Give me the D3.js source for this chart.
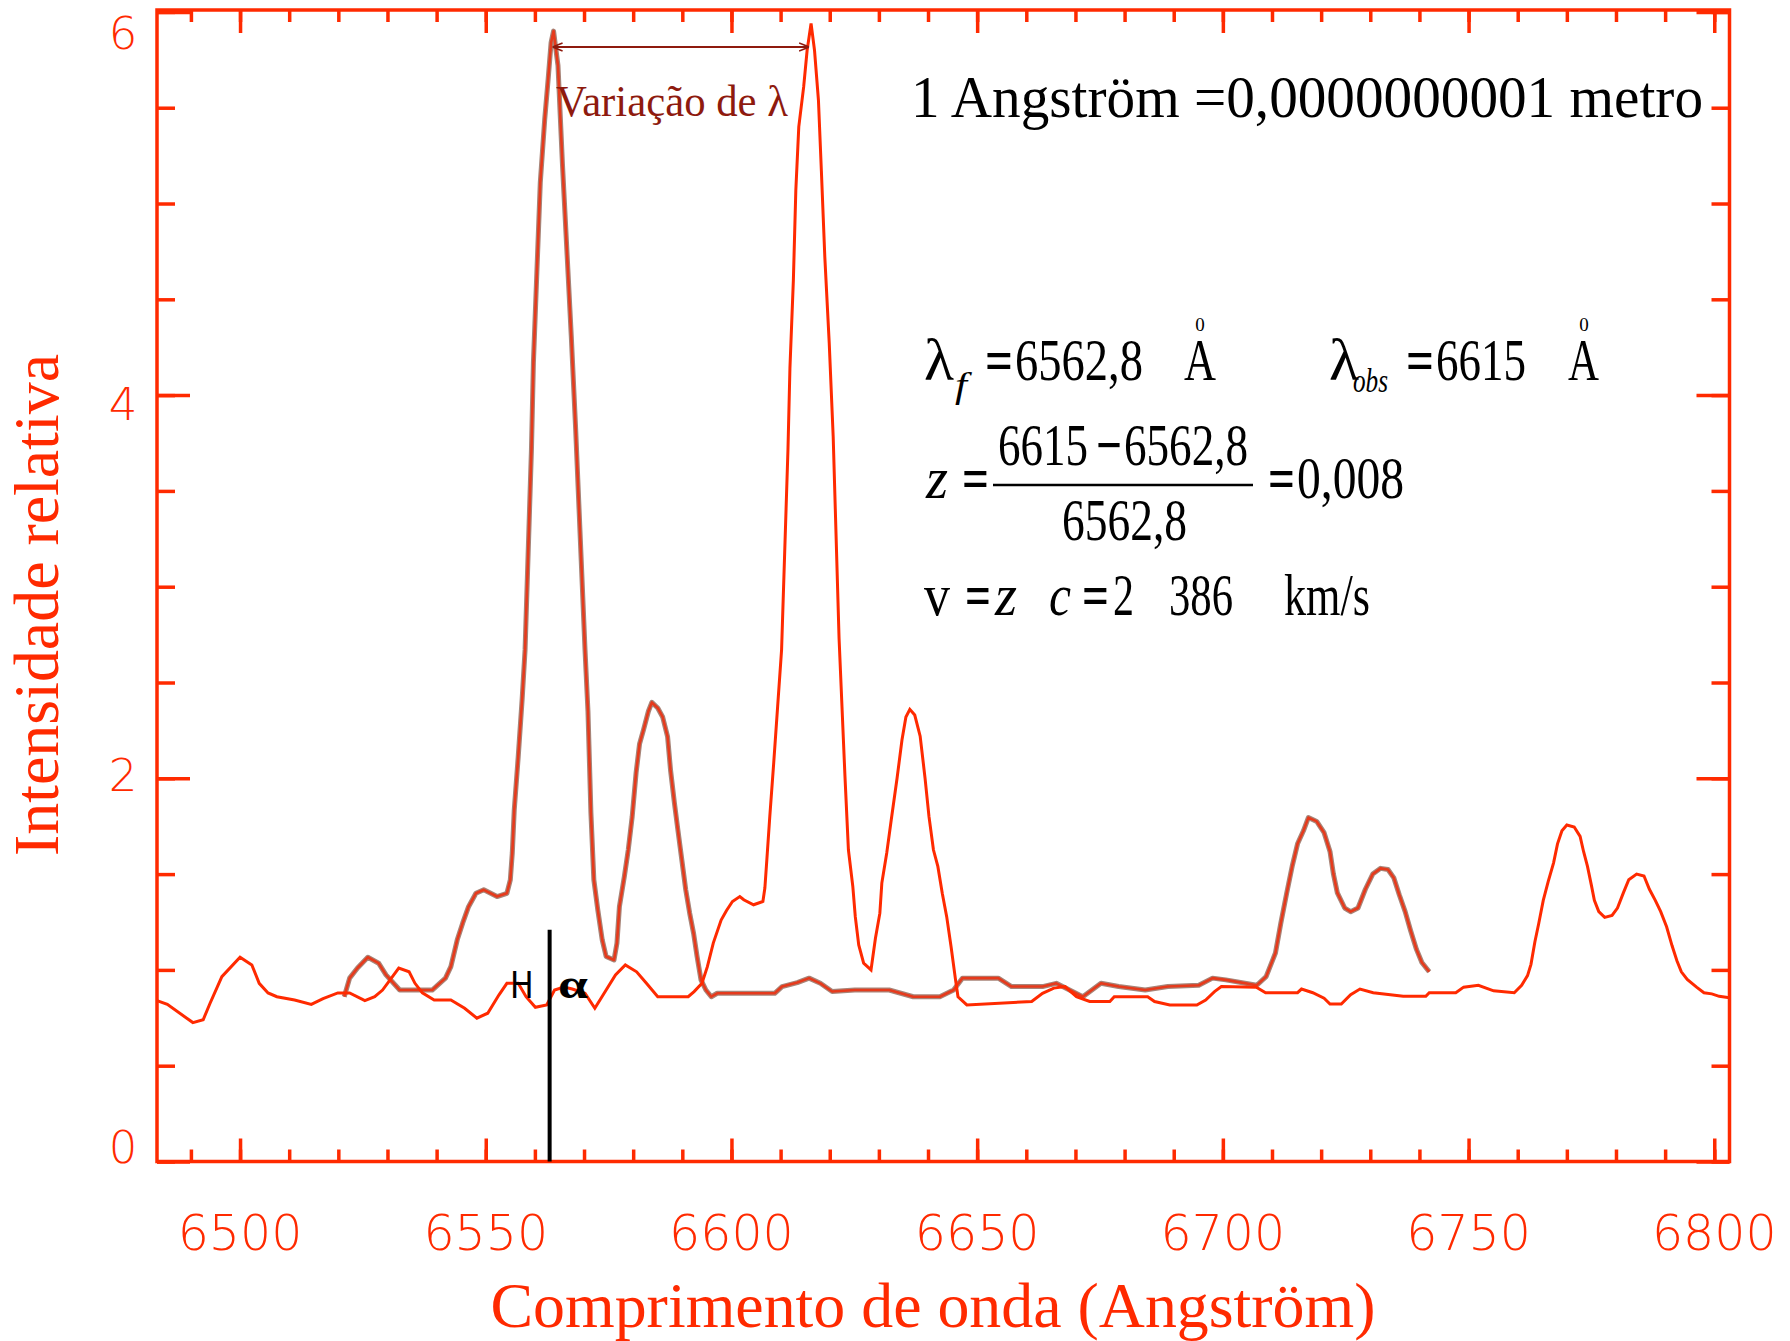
<!DOCTYPE html>
<html><head><meta charset="utf-8">
<script src="https://cdn.jsdelivr.net/npm/d3@7"></script>
<style>body{margin:0;background:#fff}svg{display:block}</style>
</head><body>
<svg id="c" width="1790" height="1341"></svg>
<script>
// ---------- DATA ----------
// Observed (redshifted) spectrum
const waveA = [6483.1,6485.2,6490.4,6492.5,6493.9,6496.3,6500.0,6502.4,6503.9,6505.7,
6507.5,6511.1,6514.5,6516.9,6519.9,6522.3,6525.4,6527.4,6529.0,6532.3,
6534.4,6535.6,6537.1,6539.5,6542.9,6545.7,6548.2,6550.4,6552.7,6554.3,
6556.6,6558.2,6560.1,6562.4,6564.0,6565.9,6567.6,6570.2,6572.2,6574.5,
6576.4,6578.4,6580.7,6582.7,6585.0,6591.2,6592.4,6594.0,6595.1,6596.3,
6597.9,6599.0,6600.2,6601.7,6602.5,6604.5,6606.4,6606.8,6607.2,6607.8,
6608.6,6609.4,6610.2,6611.5,6611.9,6612.6,6613.1,6613.7,6614.7,6615.4,
6616.2,6616.9,6617.7,6618.3,6619.0,6619.9,6620.7,6621.9,6623.1,6623.8,
6624.7,6625.2,6625.9,6626.9,6628.4,6629.3,6630.2,6630.6,6631.6,6632.5,
6633.7,6634.7,6635.5,6636.3,6637.3,6638.4,6639.4,6640.2,6641.1,6642.0,
6642.9,6643.8,6644.7,6645.6,6646.1,6647.9,6661.1,6663.3,6665.6,6667.9,
6670.2,6672.9,6677.0,6677.9,6684.7,6686.1,6689.2,6694.7,6696.5,6698.3,
6699.7,6706.8,6708.7,6715.2,6716.0,6718.3,6720.6,6721.8,6724.1,6726.0,
6727.9,6730.6,6736.7,6741.3,6742.0,6747.4,6749.0,6752.0,6755.1,6759.3,
6760.8,6762.0,6762.7,6763.5,6764.3,6765.2,6766.2,6767.3,6768.1,6769.0,
6770.0,6771.5,6772.7,6773.4,6774.2,6775.0,6775.6,6776.5,6777.7,6779.2,
6780.3,6781.5,6782.6,6784.2,6785.7,6786.8,6788.0,6789.1,6790.3,6791.4,
6792.4,6793.3,6794.5,6796.4,6797.9,6799.5,6801.0,6803.1];
const intA = [0.84,0.82,0.725,0.74,0.826,0.965,1.066,1.026,0.93,0.88,
0.86,0.843,0.82,0.85,0.88,0.88,0.84,0.86,0.895,1.01,
0.99,0.93,0.88,0.843,0.843,0.80,0.748,0.774,0.87,0.93,
0.93,0.86,0.805,0.817,0.895,0.91,0.90,0.878,0.80,0.895,
0.974,1.026,0.99,0.93,0.86,0.86,0.887,0.93,1.017,1.14,
1.26,1.31,1.357,1.383,1.366,1.34,1.357,1.427,1.574,1.80,
2.08,2.375,2.67,3.716,4.14,4.60,5.07,5.40,5.61,5.80,
5.94,5.80,5.54,5.17,4.72,4.27,3.785,2.73,2.01,1.627,
1.435,1.278,1.13,1.035,1.0,1.165,1.296,1.453,1.61,1.78,
2.0,2.2,2.32,2.36,2.33,2.22,2.0,1.80,1.627,1.54,
1.40,1.278,1.12,0.948,0.86,0.817,0.835,0.878,0.905,0.913,
0.86,0.835,0.835,0.86,0.86,0.835,0.817,0.817,0.843,0.887,
0.913,0.91,0.881,0.881,0.90,0.881,0.852,0.822,0.822,0.871,
0.90,0.881,0.862,0.862,0.881,0.881,0.91,0.92,0.891,0.881,
0.92,0.97,1.029,1.147,1.245,1.363,1.461,1.559,1.658,1.726,
1.756,1.746,1.697,1.618,1.54,1.441,1.363,1.304,1.274,1.284,
1.323,1.402,1.471,1.50,1.49,1.421,1.363,1.304,1.225,1.127,
1.048,0.99,0.95,0.91,0.881,0.875,0.862,0.855];

// Rest-frame spectrum
const waveB = [6521.2,6522.3,6523.9,6526.0,6528.2,6529.7,6532.5,6539.1,6541.8,6542.9,
6544.2,6545.3,6546.5,6548.0,6549.6,6552.3,6554.3,6555.0,6555.4,6555.8,
6556.6,6557.4,6558.0,6559.3,6559.7,6560.4,6561.1,6562.0,6562.7,6563.3,
6563.8,6564.7,6565.6,6566.5,6567.4,6568.3,6570.2,6570.8,6571.4,6572.0,
6572.8,6573.7,6574.5,6576.1,6576.7,6577.2,6578.2,6579.0,6579.8,6580.6,
6581.3,6582.1,6583.1,6583.8,6585.0,6586.0,6587.0,6587.6,6588.4,6589.1,
6589.9,6590.7,6591.5,6592.3,6593.0,6593.8,6594.8,6595.9,6597.1,6608.8,
6610.3,6613.4,6615.8,6618.1,6620.5,6625.1,6632.1,6637.0,6642.4,6645.2,
6647.0,6654.3,6657.0,6663.3,6666.1,6668.8,6671.5,6675.2,6678.8,6684.2,
6688.8,6695.1,6697.9,6700.6,6706.9,6708.8,6710.7,6711.8,6713.0,6714.1,
6715.2,6716.4,6717.4,6719.1,6720.6,6721.8,6722.5,6723.3,6724.8,6726.0,
6727.5,6729.0,6730.5,6732.1,6733.6,6734.8,6735.9,6737.1,6738.2,6739.4,
6740.5,6742.0];
const intB = [0.86,0.957,1.01,1.066,1.035,0.974,0.895,0.895,0.957,1.017,
1.157,1.244,1.33,1.40,1.418,1.383,1.40,1.47,1.61,1.835,
2.11,2.41,2.67,3.716,4.17,4.64,5.11,5.44,5.65,5.84,
5.90,5.72,5.21,4.76,4.31,3.82,2.67,2.35,1.82,1.47,
1.313,1.157,1.07,1.052,1.14,1.33,1.487,1.627,1.80,2.03,
2.18,2.253,2.35,2.396,2.367,2.32,2.218,2.044,1.87,1.73,
1.574,1.418,1.296,1.19,1.07,0.948,0.895,0.86,0.878,0.878,
0.913,0.934,0.957,0.93,0.887,0.895,0.895,0.86,0.86,0.895,
0.957,0.957,0.913,0.913,0.93,0.895,0.86,0.93,0.913,0.895,
0.913,0.92,0.957,0.948,0.92,0.965,1.088,1.245,1.402,1.54,
1.658,1.726,1.795,1.775,1.716,1.618,1.50,1.402,1.323,1.304,
1.323,1.421,1.50,1.53,1.524,1.48,1.392,1.304,1.206,1.107,
1.039,0.99];

const xMajorTicks = [6500,6550,6600,6650,6700,6750,6800];
const xTickLabels = ["6500","6550","6600","6650","6700","6750","6800"];
const xMinorTicks = d3.range(6490, 6801, 10);
const yMajorTicks = [0,2,4,6];
const yTickLabels = ["0","2","4","6"];
const yMinorTicks = d3.range(0, 6.01, 0.5);
const hAlphaRest = 6563;     // H-alpha marker
const hAlphaTop = 1.21;

// ---------- SETUP ----------
const RED = "#ff2a00", DARKRED = "#8e1a0e";
const svg = d3.select("#c");
const x = d3.scaleLinear().domain([6483.1, 6803.1]).range([157, 1729.5]);
const y = d3.scaleLinear().domain([0, 6.01]).range([1161.5, 10]);
const yLab = d3.scaleLinear().domain([0, 6]).range([1146, 32]);
const [x0, x1] = x.range(), [yb, yt] = y.range();

// frame
svg.append("rect").attr("x", x0).attr("y", yt).attr("width", x1 - x0).attr("height", yb - yt)
  .attr("fill", "none").attr("stroke", RED).attr("stroke-width", 3.5);

function ticks(axisFn, scale, vals, size, tx, ty) {
  const g = svg.append("g").attr("transform", `translate(${tx},${ty})`).attr("color", RED)
    .call(axisFn(scale).tickValues(vals).tickSize(size).tickFormat(""));
  g.select(".domain").remove();
  g.selectAll(".tick line").attr("stroke-width", 3.5);
}
ticks(d3.axisBottom, x, xMinorTicks, -12, 0, yb);
ticks(d3.axisBottom, x, xMajorTicks, -23, 0, yb);
ticks(d3.axisTop, x, xMinorTicks, -12, 0, yt);
ticks(d3.axisTop, x, xMajorTicks, -23, 0, yt);
ticks(d3.axisLeft, y, yMinorTicks, -18, x0, 0);
ticks(d3.axisLeft, y, yMajorTicks, -33, x0, 0);
ticks(d3.axisRight, y, yMinorTicks, -18, x1, 0);
ticks(d3.axisRight, y, yMajorTicks, -33, x1, 0);

// tick labels
svg.append("g").selectAll("text").data(xMajorTicks).join("text")
  .attr("x", d => x(d)).attr("y", 1250).attr("text-anchor", "middle")
  .attr("font-family", "DejaVu Sans").attr("font-weight", 300).attr("font-size", 49)
  .attr("fill", RED).text((d, i) => xTickLabels[i]);
svg.append("g").selectAll("text").data(yMajorTicks).join("text")
  .attr("x", 123).attr("y", d => yLab(d) + 16.5).attr("text-anchor", "middle")
  .attr("font-family", "DejaVu Sans").attr("font-weight", 300).attr("font-size", 45)
  .attr("fill", RED).text((d, i) => yTickLabels[i]);

// axis titles
svg.append("text").attr("x", 933).attr("y", 1327).attr("text-anchor", "middle")
  .attr("font-family", "Liberation Serif").attr("font-size", 63).attr("fill", RED)
  .attr("textLength", 885).attr("lengthAdjust", "spacingAndGlyphs")
  .text("Comprimento de onda (Angström)");
svg.append("text").attr("transform", "translate(58,605) rotate(-90)").attr("text-anchor", "middle")
  .attr("font-family", "Liberation Serif").attr("font-size", 64).attr("fill", RED)
  .attr("textLength", 502).attr("lengthAdjust", "spacingAndGlyphs")
  .text("Intensidade relativa");

// ---------- LINES ----------
const dataA = d3.zip(waveA, intA), dataB = d3.zip(waveB, intB);
const line = d3.line().x(d => x(d[0])).y(d => y(d[1])).curve(d3.curveLinear);
svg.append("path").datum(dataB).attr("d", line).attr("fill", "none")
  .attr("stroke", "#a88478").attr("stroke-width", 5).attr("stroke-linejoin", "round");
svg.append("path").datum(dataB).attr("d", line).attr("fill", "none")
  .attr("stroke", "#e63a1c").attr("stroke-width", 2.6).attr("stroke-linejoin", "round");
svg.append("path").datum(dataA).attr("d", line).attr("fill", "none")
  .attr("stroke", RED).attr("stroke-width", 3).attr("stroke-linejoin", "miter");

// H-alpha marker
svg.append("line").attr("x1", x(hAlphaRest)).attr("x2", x(hAlphaRest))
  .attr("y1", y(0)).attr("y2", y(hAlphaTop)).attr("stroke", "#000").attr("stroke-width", 4);
svg.append("text").attr("transform", "translate(510,998) scale(0.85,1)")
  .attr("font-family", "DejaVu Sans").attr("font-size", 37).attr("fill", "#000").text("H");
svg.append("text").attr("x", 558).attr("y", 998)
  .attr("font-family", "Liberation Serif").attr("font-weight", "bold").attr("font-size", 42)
  .attr("textLength", 30).attr("lengthAdjust", "spacingAndGlyphs").attr("fill", "#000").text("α");

// ---------- ANNOTATIONS ----------
const peakB = waveB[d3.maxIndex(intB)], peakA = waveA[d3.maxIndex(intA)];
const defs = svg.append("defs");
defs.append("marker").attr("id", "ah").attr("viewBox", "0 0 10 10").attr("refX", 10).attr("refY", 5)
  .attr("markerWidth", 5).attr("markerHeight", 5).attr("orient", "auto-start-reverse")
  .append("path").attr("d", "M0,1 L10,5 L0,9").attr("fill", "none").attr("stroke", DARKRED).attr("stroke-width", 1.6);
svg.append("line").attr("x1", x(peakB) - 1).attr("x2", x(peakA) - 2).attr("y1", 47).attr("y2", 47)
  .attr("stroke", DARKRED).attr("stroke-width", 2)
  .attr("marker-start", "url(#ah)").attr("marker-end", "url(#ah)");
svg.append("text").attr("x", 556).attr("y", 116).attr("font-family", "Liberation Serif")
  .attr("font-size", 44).attr("fill", DARKRED).attr("textLength", 232)
  .attr("lengthAdjust", "spacingAndGlyphs").text("Variação de λ");

function t(xp, yp, s, size, len, opt = {}) {
  const e = svg.append("text").attr("x", xp).attr("y", yp).attr("font-family", "Liberation Serif")
    .attr("font-size", size).attr("fill", "#000").text(s);
  if (len) e.attr("textLength", len).attr("lengthAdjust", "spacingAndGlyphs");
  if (opt.italic) e.attr("font-style", "italic");
  if (opt.bold) e.attr("font-weight", "bold");
  if (opt.anchor) e.attr("text-anchor", opt.anchor);
  return e;
}
t(911, 117, "1 Angström =0,0000000001 metro", 59, 792);

t(924, 380, "λ", 60, 30);
t(955, 397, "f", 36, 12, {italic: true});
t(985, 380, "=", 60, 28, {bold: true});
t(1015, 380, "6562,8", 60, 128);
t(1184, 380, "A", 60, 32);
t(1200, 331, "0", 19, 0, {anchor: "middle"});
t(1329, 380, "λ", 60, 30);
t(1353, 392, "obs", 34, 35, {italic: true});
t(1406, 380, "=", 60, 28, {bold: true});
t(1436, 380, "6615", 60, 90);
t(1568, 380, "A", 60, 31);
t(1584, 331, "0", 19, 0, {anchor: "middle"});

t(926, 498, "z", 60, 22, {italic: true});
t(962, 498, "=", 60, 27, {bold: true});
svg.append("line").attr("x1", 993).attr("x2", 1253).attr("y1", 485).attr("y2", 485)
  .attr("stroke", "#000").attr("stroke-width", 2.5);
t(998, 465, "6615", 60, 90);
t(1096, 465, "−", 60, 26, {bold: true});
t(1124, 465, "6562,8", 60, 124);
t(1062, 540, "6562,8", 60, 125);
t(1268, 498, "=", 60, 27, {bold: true});
t(1297, 498, "0,008", 60, 107);

t(924, 615, "v", 60, 26);
t(965, 615, "=", 60, 26, {bold: true});
t(995, 615, "z", 60, 22, {italic: true});
t(1049, 615, "c", 60, 22, {italic: true});
t(1082, 615, "=", 60, 27, {bold: true});
t(1113, 615, "2", 60, 21);
t(1169, 615, "386", 60, 64);
t(1284, 615, "km/s", 60, 86);
</script>
</body></html>
